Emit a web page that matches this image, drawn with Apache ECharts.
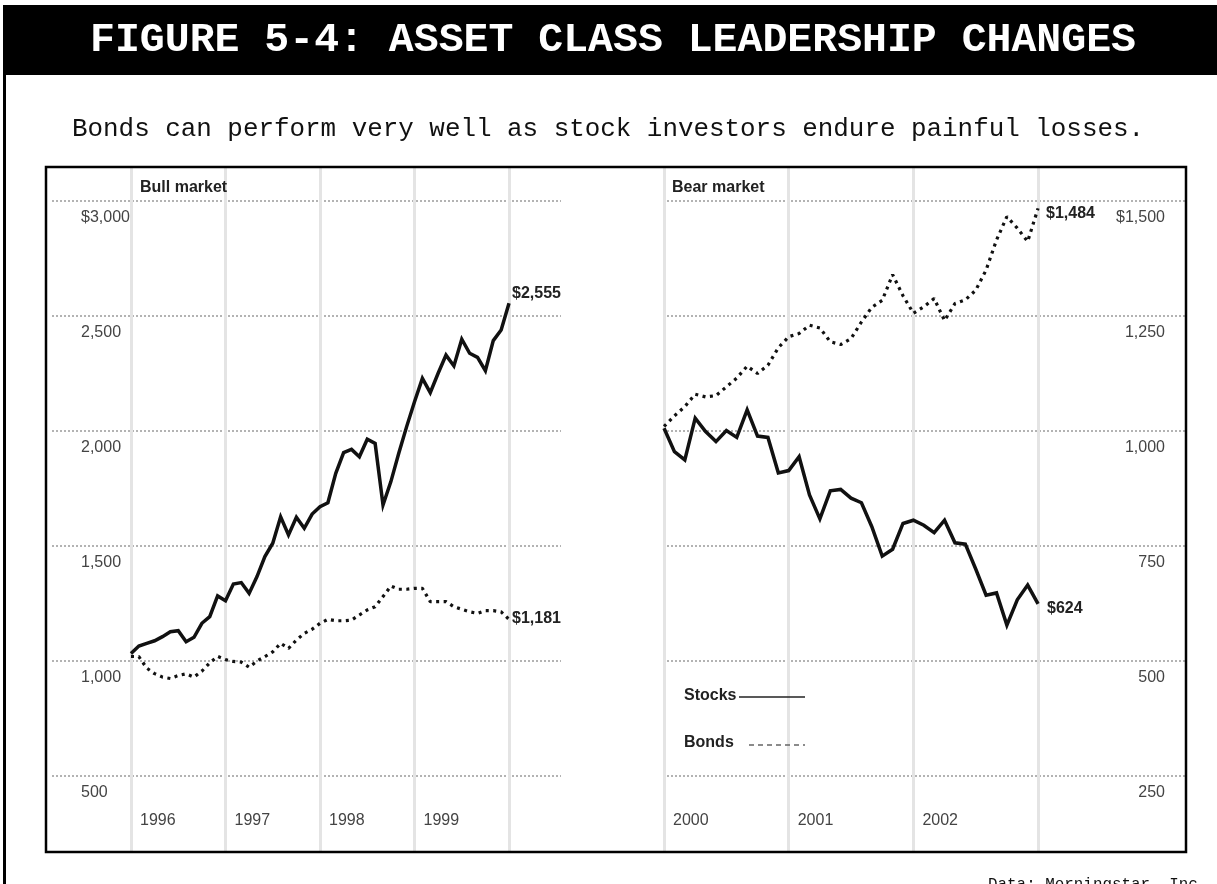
<!DOCTYPE html>
<html>
<head>
<meta charset="utf-8">
<title>Figure 5-4</title>
<script src="https://cdn.jsdelivr.net/npm/echarts@6/dist/echarts.min.js"></script>
<style>
  html, body { margin: 0; padding: 0; background: #fff; }
  #chart { width: 1217px; height: 884px; }
</style>
</head>
<body>
<div id="chart"></div>
<script>
// monthly values, index 0 = first month of the first year
var bullYears = ['1996', '1997', '1998', '1999'];
var bullStocks = [1033, 1065, 1077, 1088, 1106, 1127, 1132, 1084, 1103, 1164, 1193, 1283,
                  1262, 1335, 1341, 1294, 1367, 1454, 1512, 1627, 1548, 1625, 1577, 1639,
                  1671, 1688, 1816, 1906, 1920, 1888, 1964, 1946, 1678, 1780, 1903, 2019,
                  2127, 2229, 2167, 2251, 2330, 2283, 2399, 2338, 2320, 2262, 2393, 2439, 2555];
var bullBonds = [1020, 1019, 969, 945, 930, 924, 937, 944, 930, 956, 992, 1020,
                 1006, 998, 995, 973, 1000, 1019, 1040, 1077, 1055, 1091, 1120, 1138,
                 1164, 1181, 1175, 1175, 1178, 1200, 1222, 1236, 1280, 1326, 1312, 1312,
                 1316, 1316, 1258, 1258, 1258, 1236, 1225, 1214, 1207, 1219, 1219, 1214, 1181];
var bullTicks = [500, 1000, 1500, 2000, 2500, 3000];

var bearYears = ['2000', '2001', '2002'];
var bearStocks = [1006, 955, 937, 1028, 999, 977, 1001, 986, 1046, 989, 986, 909,
                  914, 944, 861, 809, 870, 873, 854, 844, 792, 728, 743, 799,
                  806, 795, 779, 806, 757, 754, 700, 643, 648, 578, 633, 665, 624];
var bearBonds = [1010, 1033, 1053, 1080, 1074, 1077, 1096, 1115, 1141, 1125, 1143, 1181,
                 1205, 1212, 1230, 1224, 1194, 1188, 1201, 1237, 1269, 1284, 1340, 1294,
                 1256, 1270, 1288, 1240, 1277, 1285, 1306, 1350, 1415, 1466, 1441, 1412, 1484];
var bearTicks = [250, 500, 750, 1000, 1250, 1500];

var SANS = 'Liberation Sans, Arial, sans-serif';
var MONO = 'Liberation Mono, Courier New, monospace';

function pairs(arr) {
  return arr.map(function (v, i) { return [i, v]; });
}
function money(v) {
  return v.toLocaleString('en-US');
}
function yearTicks(years, withEnd) {
  var t = years.map(function (y, i) { return i * 12; });
  if (withEnd) t.push(years.length * 12);
  return t;
}

function makeX(idx, years, min, max, endTick) {
  return {
    type: 'value', gridIndex: idx, min: min, max: max,
    axisLine: { show: false },
    axisTick: { show: false, customValues: yearTicks(years, endTick) },
    splitLine: { show: true, lineStyle: { color: '#e4e4e4', width: 3 } },
    axisLabel: {
      inside: true, margin: 23, align: 'left', padding: [0, 0, 0, 9],
      customValues: yearTicks(years, false),
      formatter: function (v) { return years[Math.round(v / 12)]; },
      color: '#444', fontSize: 16, fontFamily: SANS
    }
  };
}

// tick labels sit under their gridline, so they hang from it in a tall line box
function makeY(idx, ticks, min, max, side, margin) {
  var top = ticks[ticks.length - 1];
  return {
    type: 'value', gridIndex: idx, min: min, max: max, position: side,
    axisLine: { show: false },
    axisTick: { show: false, customValues: ticks },
    splitLine: { show: true, lineStyle: { color: '#9a9a9a', width: 1.5, type: [2, 2] } },
    axisLabel: {
      inside: true, margin: margin, verticalAlign: 'top', lineHeight: 34,
      customValues: ticks,
      formatter: function (v) { return (v === top ? '$' : '') + money(v); },
      color: '#444', fontSize: 16, fontFamily: SANS
    }
  };
}

function endLbl(text, off) {
  return {
    show: true, formatter: text, distance: 0, offset: off,
    fontWeight: 'bold', fontSize: 16, color: '#222', fontFamily: SANS
  };
}

var stockStyle = { color: '#111', width: 3.5, join: 'miter' };
var bondStyle = { color: '#111', width: 3.2, type: [3, 4.5], cap: 'butt' };

var chart = echarts.init(document.getElementById('chart'));

chart.setOption({
  animation: false,
  backgroundColor: '#fff',
  grid: [
    { left: 52, top: 167, width: 509, height: 685 },
    { left: 663, top: 167, width: 523, height: 685 }
  ],
  xAxis: [
    makeX(0, bullYears, -10.03, 54.6, true),
    makeX(1, bearYears, -0.1, 50.24, true)
  ],
  yAxis: [
    makeY(0, bullTicks, 169.6, 3147.8, 'left', 29),
    makeY(1, bearTicks, 84.8, 1573.9, 'right', 21)
  ],
  series: [
    { name: 'Bonds', type: 'line', xAxisIndex: 0, yAxisIndex: 0, data: pairs(bullBonds),
      symbol: 'none', lineStyle: bondStyle, endLabel: endLbl('$' + money(bullBonds[bullBonds.length - 1]), [3, -1]) },
    { name: 'Stocks', type: 'line', xAxisIndex: 0, yAxisIndex: 0, data: pairs(bullStocks),
      symbol: 'none', lineStyle: stockStyle, endLabel: endLbl('$' + money(bullStocks[bullStocks.length - 1]), [3, -10]) },
    { name: 'Bonds', type: 'line', xAxisIndex: 1, yAxisIndex: 1, data: pairs(bearBonds),
      symbol: 'none', lineStyle: bondStyle, endLabel: endLbl('$' + money(bearBonds[bearBonds.length - 1]), [8, 5]) },
    { name: 'Stocks', type: 'line', xAxisIndex: 1, yAxisIndex: 1, data: pairs(bearStocks),
      symbol: 'none', lineStyle: stockStyle, endLabel: endLbl('$' + money(bearStocks[bearStocks.length - 1]), [9, 5]) }
  ],
  graphic: [
    { type: 'rect', shape: { x: 5, y: 5, width: 1212, height: 70 }, style: { fill: '#000' } },
    { type: 'rect', shape: { x: 3, y: 5, width: 3, height: 879 }, style: { fill: '#000' } },
    { type: 'text', x: 613, y: 41, style: { text: 'FIGURE 5-4: ASSET CLASS LEADERSHIP CHANGES',
      fill: '#fff', font: 'bold 41.5px ' + MONO, textAlign: 'center', textVerticalAlign: 'middle' } },
    { type: 'text', x: 72, y: 129, style: { text: 'Bonds can perform very well as stock investors endure painful losses.',
      fill: '#111', font: '25.9px ' + MONO, textAlign: 'left', textVerticalAlign: 'middle' } },
    { type: 'rect', z: 100, shape: { x: 46, y: 167, width: 1140, height: 685 },
      style: { fill: 'none', stroke: '#000', lineWidth: 2.5 } },
    { type: 'text', z: 100, x: 140, y: 188, style: { text: 'Bull market', fill: '#222',
      font: 'bold 16px ' + SANS, textVerticalAlign: 'middle' } },
    { type: 'text', z: 100, x: 672, y: 188, style: { text: 'Bear market', fill: '#222',
      font: 'bold 16px ' + SANS, textVerticalAlign: 'middle' } },
    { type: 'text', z: 100, x: 684, y: 696, style: { text: 'Stocks', fill: '#222',
      font: 'bold 16px ' + SANS, textVerticalAlign: 'middle' } },
    { type: 'line', z: 100, shape: { x1: 739, y1: 697, x2: 805, y2: 697 }, style: { stroke: '#222', lineWidth: 1.4 } },
    { type: 'text', z: 100, x: 684, y: 743, style: { text: 'Bonds', fill: '#222',
      font: 'bold 16px ' + SANS, textVerticalAlign: 'middle' } },
    { type: 'line', z: 100, shape: { x1: 749, y1: 745, x2: 805, y2: 745 },
      style: { stroke: '#666', lineWidth: 1.5, lineDash: [5, 4] } },
    { type: 'text', x: 988, y: 877, style: { text: 'Data: Morningstar, Inc.', fill: '#111',
      font: '15.9px ' + MONO, textVerticalAlign: 'top' } }
  ]
});
</script>
</body>
</html>
